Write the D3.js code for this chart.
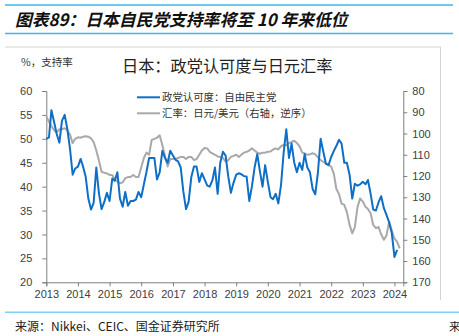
<!DOCTYPE html>
<html><head><meta charset="utf-8">
<script src="https://cdn.jsdelivr.net/npm/d3@7"></script>
<style>body{margin:0;background:#fff;} svg{display:block;}</style>
</head><body>
<svg id="c" width="459" height="336"></svg>
<script>
// Monthly data from Jan 2013
const startYear = 2013;
const approval = [
50,50.3,56,53.5,51,49.2,53.8,55,52,48,42.5,43.8,
44.2,45.8,44.2,42,37.5,35.2,36.6,44,38.5,35.3,36.8,38.7,
37,41.7,41.2,43,37.5,35.8,38.9,36,37,37,37.3,38.9,
37.8,40.5,43,46,46,46,41.5,43,47.5,46,45,47.5,
46.5,45.6,45.3,44,39,35.3,36.8,42,44.2,44.2,41,42.8,
41.5,40.2,40,41.3,44,38.5,45,47.3,46.5,42.2,38.7,40.8,
42.5,42.8,42.6,42.2,42.1,37,40,44,46.8,43.3,40,44.5,
41,37.8,37.4,38.5,36.5,40.3,47,52,46,49,45,43,
45,43.5,46.8,44,43,39.5,38.4,43,50,47.4,44.8,44.5,
46.2,47.5,48.5,49.8,49,45,45,42.5,37.5,40.6,40.2,40.5,
41,40.5,41.4,38.5,35.2,35,36.7,38,35.5,34.1,32.5,30.3,
25.3,26.8
];
const usdjpy = [
92,94.5,96.5,98.5,99.5,98,98,97.5,98.5,100.5,104.5,102.5,
101.8,102,101.5,101.3,101.5,102.3,104,108,112.8,118,118.5,118.8,
119.5,119.5,121.5,122.5,123.4,123,121,120.5,120.5,119.5,120.5,120.5,
116,111.5,109,110,103,102.5,102,100.8,105.5,110.5,115.5,112,
112,112,111.5,111,111,112,111,111,112.5,112,110,108,
106.8,107,108.6,109.3,110,110.8,111,111.5,113.2,112.5,111,110.5,
110,111,110,109,108.6,108,107,108,109,109.5,109,109,
108.6,108.5,107.5,107,107.5,106,105.4,105.5,104.5,104,103.4,104.5,
106,109,109.3,110,109.8,109.3,109.8,111.2,112.5,113.3,114.2,114.8,
115.6,119,126,128.5,133,133.6,137,143,147,144,134.5,130.5,
132,134.5,135.5,137.5,143,144.5,144,147.5,150,148,141.5,145.5,
149.5,151,154
];
const leftTicks = [20,25,30,35,40,45,50,55,60];
const rightTicks = [80,90,100,110,120,130,140,150,160,170];
const yearTicks = [2013,2014,2015,2016,2017,2018,2019,2020,2021,2022,2023,2024];

const svg = d3.select("#c");
const cjk = "'Noto Sans CJK SC', sans-serif";
const latin = "'Liberation Sans', Arial, sans-serif";

const x = d3.scaleTime().domain([new Date(2013,0,1), new Date(2024,3,12)]).range([46.3, 403.3]);
const yL = d3.scaleLinear().domain([20,60]).range([282.3, 91]);
const yR = d3.scaleLinear().domain([170,80]).range([282.3, 91]);
const dateOf = i => new Date(startYear, i, 1);

// header
svg.append("line").attr("x1",5).attr("x2",453).attr("y1",5).attr("y2",5).attr("stroke","#3fb5ef").attr("stroke-width",1.5);
svg.append("line").attr("x1",5).attr("x2",453).attr("y1",33.5).attr("y2",33.5).attr("stroke","#3fb5ef").attr("stroke-width",1.5);
svg.append("text").attr("x",15).attr("y",25.5).attr("font-family",cjk).attr("font-style","italic").attr("font-weight",600).attr("font-size",16.8).attr("fill","#111")
  .text("图表89：日本自民党支持率将至 10 年来低位");

// frame
svg.append("line").attr("x1",5).attr("x2",440.5).attr("y1",47).attr("y2",47).attr("stroke","#d4d4d4");
svg.append("line").attr("x1",440.5).attr("x2",440.5).attr("y1",47).attr("y2",300).attr("stroke","#d4d4d4");

svg.append("text").attr("x",21).attr("y",66).attr("font-family",cjk).attr("font-size",10.5).attr("fill","#333").text("%，支持率");
svg.append("text").attr("x",122).attr("y",72).attr("font-family",cjk).attr("font-size",16.2).attr("fill","#222").text("日本：政党认可度与日元汇率");

// axes
function styleAxis(g){
  g.selectAll("path,line").attr("stroke","#7f7f7f");
  g.selectAll("text").attr("font-family",latin).attr("font-size",11).attr("fill","#404040");
}
svg.append("g").attr("transform","translate(46.3,0)")
  .call(d3.axisLeft(yL).tickValues(leftTicks).tickSize(4).tickPadding(10)).call(styleAxis);
svg.append("g").attr("transform","translate(403.3,0)")
  .call(d3.axisRight(yR).tickValues(rightTicks).tickSize(4).tickPadding(5)).call(styleAxis);
svg.append("g").attr("transform","translate(0,282.3)")
  .call(d3.axisBottom(x).tickValues(yearTicks.map(y=>new Date(y,0,1))).tickFormat(d3.timeFormat("%Y")).tickSize(4).tickPadding(4)).call(styleAxis);

// lines
const lineR = d3.line().x((d,i)=>x(dateOf(i))).y(d=>yR(d));
const lineL = d3.line().x((d,i)=>x(dateOf(i))).y(d=>yL(d));
svg.append("path").datum(usdjpy).attr("d",lineR).attr("fill","none").attr("stroke","#a9a9a9").attr("stroke-width",2).attr("stroke-linejoin","round");
svg.append("path").datum(approval).attr("d",lineL).attr("fill","none").attr("stroke","#0f6fc6").attr("stroke-width",2).attr("stroke-linejoin","round");

// legend
const legend = [
  {label:"政党认可度：自由民主党", color:"#0f6fc6", y:97.3},
  {label:"汇率：日元/美元（右轴，逆序）", color:"#a9a9a9", y:113.3}
];
legend.forEach(l=>{
  svg.append("line").attr("x1",137).attr("x2",160).attr("y1",l.y).attr("y2",l.y).attr("stroke",l.color).attr("stroke-width",2);
  svg.append("text").attr("x",162).attr("y",l.y+3.8).attr("font-family",cjk).attr("font-size",10.4).attr("fill","#333").text(l.label);
});

// footer
svg.append("line").attr("x1",5).attr("x2",459).attr("y1",312.3).attr("y2",312.3).attr("stroke","#7fd0f7").attr("stroke-width",1.5);
svg.append("text").attr("x",15).attr("y",330.5).attr("font-family",cjk).attr("font-size",12).attr("fill","#222").text("来源：Nikkei、CEIC、国金证券研究所");
svg.append("text").attr("x",449).attr("y",330.5).attr("font-family",cjk).attr("font-size",11.5).attr("fill","#222").text("来");
</script>
</body></html>
